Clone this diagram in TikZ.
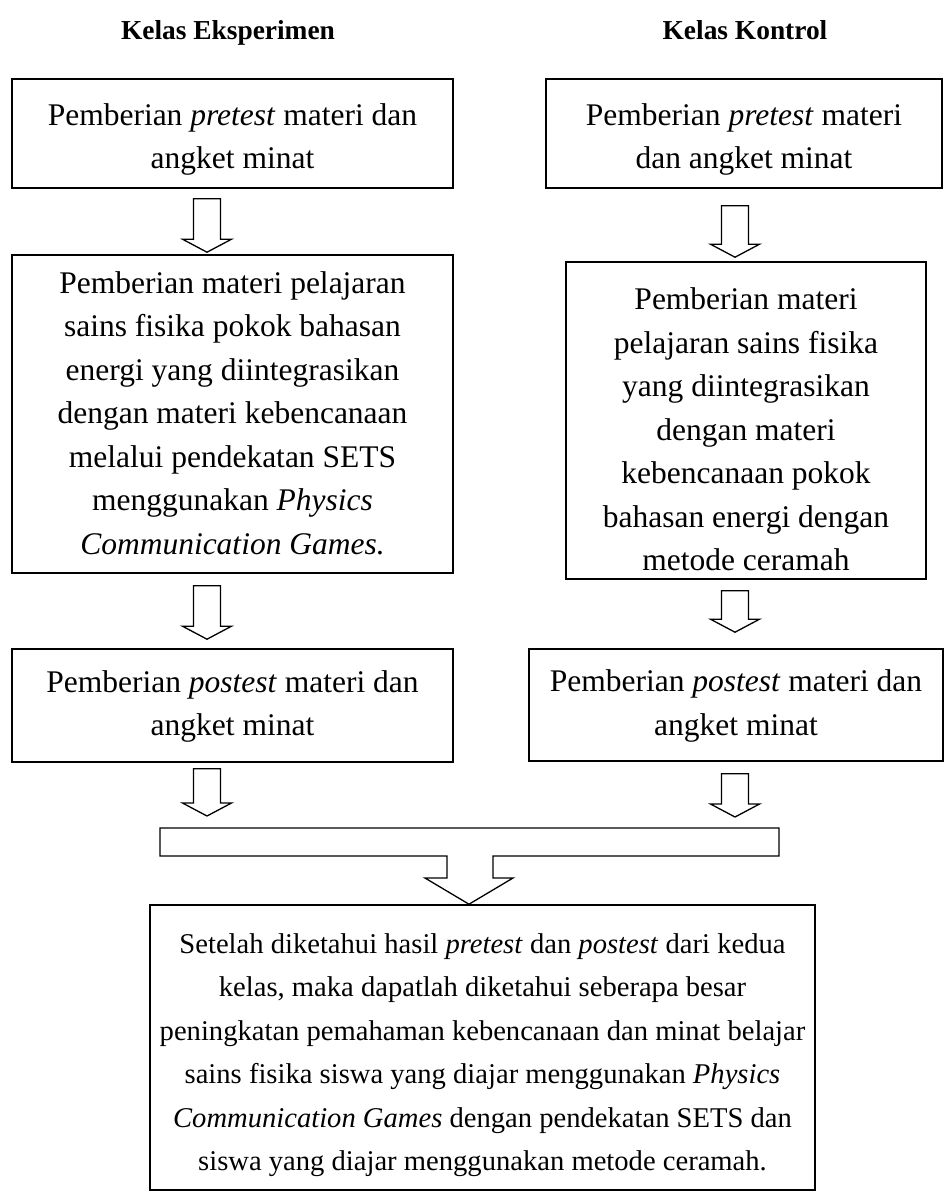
\documentclass[tikz,border=0pt]{standalone}
\usepackage{fontspec}
\setmainfont{Liberation Serif}
\usetikzlibrary{calc}

\newcommand{\flowfont}{\fontsize{31.5pt}{43.5pt}\selectfont}
\newcommand{\smallflowfont}{\fontsize{28.6pt}{43.5pt}\selectfont}
\newcommand{\titlefont}{\fontsize{27.4pt}{33pt}\selectfont\bfseries}
% teks dalam kotak, bisa digeser ke bawah
\newcommand{\boxtext}[2][0pt]{\raisebox{-#1}[\height][\depth]{\begin{tabular}{@{}c@{}}#2\end{tabular}}}

\tikzset{
  box/.style={draw, line width=1.6pt, inner sep=0pt},
  hollow/.style={draw, line width=1.3pt, fill=white, to path={
      let \p1=(\tikztostart), \p2=(\tikztotarget) in
      (\x1-13.5pt,\y1) -- (\x1+13.5pt,\y1) -- (\x1+13.5pt,\y2+13pt)
      -- (\x1+24.5pt,\y2+13pt) -- (\x1,\y2) -- (\x1-24.5pt,\y2+13pt)
      -- (\x1-13.5pt,\y2+13pt) -- cycle}}
}

\begin{document}
\begin{tikzpicture}[x=1pt, y=-1pt, every node/.style={font=\flowfont}]
    \useasboundingbox (0,0) rectangle (945,1195);

    % judul kolom
    \node[font=\titlefont, anchor=base] (ttl1) at (228,39) {Kelas Eksperimen};
    \node[font=\titlefont, anchor=base] (ttl2) at (745,39) {Kelas Kontrol};

    % kelas eksperimen
    \node[box, minimum width=441pt, minimum height=109pt] (pre1) at (232.5,133.5)
        {\boxtext[5pt]{Pemberian \emph{pretest} materi dan\\angket minat}};
    \node[box, minimum width=441pt, minimum height=318pt] (mat1) at (232.5,414)
        {\boxtext[1pt]{Pemberian materi pelajaran\\sains fisika pokok bahasan\\energi yang diintegrasikan\\dengan materi kebencanaan\\melalui pendekatan SETS\\menggunakan \emph{Physics}\\\emph{Communication Games.}}};
    \node[box, minimum width=441pt, minimum height=113pt] (post1) at (232.5,705.5)
        {\boxtext{Pemberian \emph{postest} materi dan\\angket minat}};

    % kelas kontrol
    \node[box, minimum width=396pt, minimum height=109pt] (pre2) at (744,133.5)
        {\boxtext[5pt]{Pemberian \emph{pretest} materi\\dan angket minat}};
    \node[box, minimum width=360pt, minimum height=317pt] (mat2) at (746,420.5)
        {\boxtext[11pt]{Pemberian materi\\pelajaran sains fisika\\yang diintegrasikan\\dengan materi\\kebencanaan pokok\\bahasan energi dengan\\metode ceramah}};
    \node[box, minimum width=414pt, minimum height=112pt] (post2) at (736,705)
        {\boxtext{Pemberian \emph{postest} materi dan\\angket minat}};

    % kesimpulan
    \node[box, font=\smallflowfont, minimum width=665pt, minimum height=285pt] (hasil) at (482.5,1047.5)
        {\boxtext[6pt]{Setelah diketahui hasil \emph{pretest} dan \emph{postest} dari kedua\\kelas, maka dapatlah diketahui seberapa besar\\peningkatan pemahaman kebencanaan dan minat belajar\\sains fisika siswa yang diajar menggunakan \emph{Physics}\\\emph{Communication Games} dengan pendekatan SETS dan\\siswa yang diajar menggunakan metode ceramah.}};

    \coordinate (lx) at (207,0);
    \coordinate (rx) at (735,0);
    \coordinate (bar) at (0,828);

    % panah
    \draw[hollow] ($(pre1.south -| lx)+(0,10)$) to ($(mat1.north -| lx)+(0,-2)$);
    \draw[hollow] ($(pre2.south -| rx)+(0,17)$) to ($(mat2.north -| rx)+(0,-4)$);
    \draw[hollow] ($(mat1.south -| lx)+(0,12)$) to ($(post1.north -| lx)+(0,-9)$);
    \draw[hollow] ($(mat2.south -| rx)+(0,11)$) to ($(post2.north -| rx)+(0,-16)$);
    \draw[hollow] ($(post1.south -| lx)+(0,6)$) to ($(bar -| lx)+(0,-12)$);
    \draw[hollow] ($(post2.south -| rx)+(0,12)$) to ($(bar -| rx)+(0,-11)$);

    % panah gabungan
    \draw[line width=1.3pt] (160,828) -- (779,828) -- (779,856) -- (493,856)
        -- (493,878) -- (513,878) -- (hasil.north -| 469,0) -- (425,878)
        -- (447,878) -- (447,856) -- (160,856) -- cycle;
\end{tikzpicture}
\end{document}
